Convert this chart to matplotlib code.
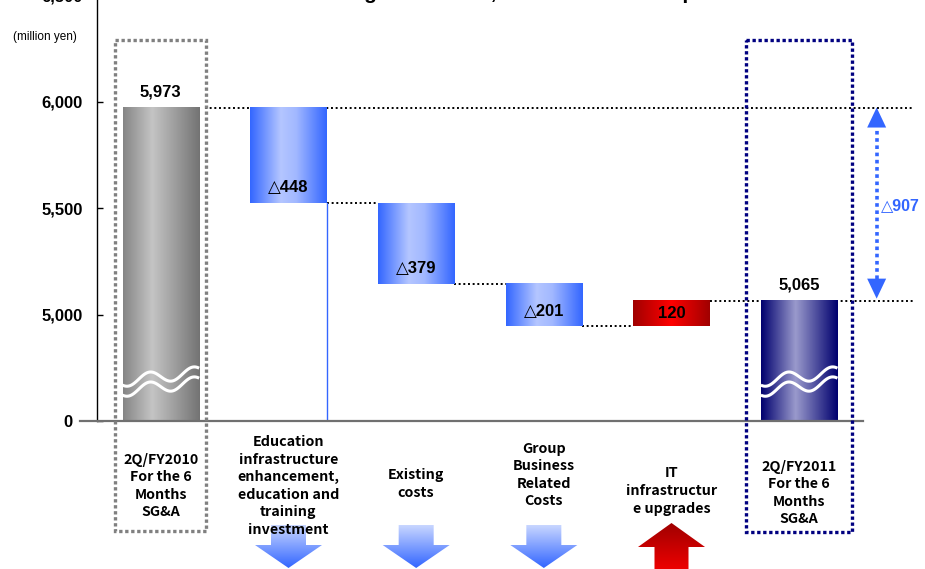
import numpy as np
import matplotlib
matplotlib.use("Agg")
import matplotlib.pyplot as plt
from matplotlib.colors import LinearSegmentedColormap
from matplotlib.patches import Polygon, Rectangle
from matplotlib.transforms import ScaledTranslation
from matplotlib import font_manager

# --- data -------------------------------------------------------------
categories = ["2Q/FY2010\nFor the 6\nMonths\nSG&A",
              "Education\ninfrastructure\nenhancement,\neducation and\ntraining\ninvestment",
              "Existing\ncosts",
              "Group\nBusiness\nRelated\nCosts",
              "IT\ninfrastructur\ne upgrades",
              "2Q/FY2011\nFor the 6\nMonths\nSG&A"]
start_total = 5973
end_total = 5065
changes = [-448, -379, -201, 120]
change_labels = ["△448", "△379", "△201", "120"]
total_labels = ["5,973", "5,065"]
diff_label = "△907"
yticks = [4500, 5000, 5500, 6000, 6500]
ytick_labels = ["0", "5,000", "5,500", "6,000", "6,500"]
unit_label = "(million yen)"
title = "Changes in SG&A, Year-on-Year Comparison"

BREAK = 4500   # axis is broken: everything below this is cut away

names = {f.name for f in font_manager.fontManager.ttflist}
if "Liberation Sans Narrow" in names:
    cat_font, cat_size, cat_ls = "Liberation Sans Narrow", 12, 1.12
elif "Noto Sans CJK JP" in names:
    cat_font, cat_size, cat_ls = "Noto Sans CJK JP", 10.3, 1.33
else:
    cat_font, cat_size, cat_ls = "Liberation Sans", 10.5, 1.25
plt.rcParams["font.family"] = ["Liberation Sans", "DejaVu Sans"]


def ty(v):
    return v - BREAK


def grad_cmap(stops):
    return LinearSegmentedColormap.from_list("g", stops)


gray_cm = grad_cmap([(0, "#858585"), (0.38, "#c4c4c4"), (0.6, "#a8a8a8"), (1, "#737373")])
blue_cm = grad_cmap([(0, "#3366ff"), (0.4, "#b4c6ff"), (0.6, "#a2b8ff"), (1, "#3366ff")])
red_cm = grad_cmap([(0, "#a00000"), (0.5, "#ff0000"), (1, "#a00000")])
navy_cm = grad_cmap([(0, "#00006e"), (0.45, "#9a9acc"), (1, "#00006e")])
down_cm = grad_cmap([(0, "#c8d6ff"), (1, "#3366ff")])
up_cm = grad_cmap([(0, "#a00000"), (1, "#ff0000")])

W, H = 925, 569
fig = plt.figure(figsize=(W / 100, H / 100), dpi=100)
ax = fig.add_axes([97 / W, 148 / H, 766 / W, 432 / H])
XL, YL = (-0.5, 5.5), (0, 2030)
PXY = YL[1] / 432.0          # data units per pixel (vertical)
PXX = 6 / 766.0              # data units per pixel (horizontal)
BW = 0.6


def grad_bar(x, lo, hi, cmap):
    ax.imshow(np.linspace(0, 1, 256).reshape(1, -1), cmap=cmap, aspect="auto",
              extent=[x - BW / 2, x + BW / 2, ty(lo), ty(hi)], zorder=2,
              interpolation="bilinear")


# waterfall levels
levels = [start_total]
for c in changes:
    levels.append(levels[-1] + c)

grad_bar(0, BREAK, start_total, gray_cm)
for i, c in enumerate(changes):
    lo, hi = sorted([levels[i], levels[i + 1]])
    grad_bar(i + 1, lo, hi, red_cm if c > 0 else blue_cm)
    if c < 0:
        ax.annotate(change_labels[i], (i + 1, ty(lo)), xytext=(0, 11),
                    textcoords="offset points", ha="center", va="center",
                    fontsize=12, fontweight="bold", zorder=5)
    else:
        ax.text(i + 1, ty((lo + hi) / 2), change_labels[i], ha="center", va="center",
                fontsize=12, fontweight="bold", zorder=5)
n = len(categories) - 1
grad_bar(n, BREAK, end_total, navy_cm)

for x, v, lab in [(0, start_total, total_labels[0]), (n, end_total, total_labels[1])]:
    ax.annotate(lab, (x, ty(v)), xytext=(0, 6), textcoords="offset points",
                ha="center", va="bottom", fontsize=12, fontweight="bold")
    # break marks
    t = np.linspace(0, 1, 80)
    phi = 2 * np.pi * (t - 0.355) / 0.57 + np.pi / 2
    up = (40 + 8.9 * t + 5.8 * np.sin(phi)) * PXY
    xs = x - BW / 2 + BW * t
    for off in (0, 10 * PXY):
        ax.plot(xs, up - off, color="white", lw=2.2, zorder=3, solid_capstyle="butt")

# connectors
dot = dict(color="black", lw=1.4, ls=(0, (1, 1.4)), clip_on=False, zorder=1)
ax.plot([0 + 0.345, 5.9], [ty(start_total)] * 2, **dot)
ax.plot([n - 1 + BW / 2, 5.9], [ty(end_total)] * 2, **dot)
for i in range(1, len(changes)):
    ax.plot([i + BW / 2, i + 1 - BW / 2], [ty(levels[i])] * 2, **dot)
ax.plot([1 + BW / 2] * 2, [0, ty(levels[1])], color="#3366ff", lw=1, zorder=1)

# difference arrow
xa = 5.607
hw, hh = 9.5 * PXX, 20 * PXY
top, bot = ty(start_total), ty(end_total) + 10
ax.add_patch(Polygon([(xa - hw, top - hh), (xa + hw, top - hh), (xa, top)], closed=True,
                     color="#3366ff", clip_on=False, lw=0))
ax.add_patch(Polygon([(xa - hw, bot + hh), (xa + hw, bot + hh), (xa, bot)], closed=True,
                     color="#3366ff", clip_on=False, lw=0))
ax.plot([xa, xa], [bot + hh, top - hh], color="#3366ff", lw=2.6, ls=(0, (1, 1)),
        clip_on=False)
ax.text(xa + 0.03, (top + bot) / 2 - 2 * PXY, diff_label, color="#3366ff", fontsize=11.5,
        fontweight="bold", ha="left", va="center", clip_on=False)

# axes styling
ax.set_xlim(*XL)
ax.set_ylim(*YL)
ax.set_yticks([ty(v) for v in yticks])
ax.set_yticklabels(ytick_labels, fontsize=12, fontweight="bold")
ax.set_xticks([])
ax.tick_params(axis="y", direction="in", length=4, width=1, pad=10)
zero = ax.get_yticklabels()[0]
zero.set_transform(zero.get_transform() + ScaledTranslation(-0.11, 0, fig.dpi_scale_trans))
for s in ["top", "right", "bottom"]:
    ax.spines[s].set_visible(False)
ax.spines["left"].set_linewidth(1)
ax.plot([-0.634, XL[1]], [0, 0], color="#707070", lw=1.6, clip_on=False, zorder=4)

# overlay in pixel coordinates for things below the plot area
ov = fig.add_axes([0, 0, 1, 1])
ov.axis("off")
cx = [ax.transData.transform((i, 0))[0] for i in range(len(categories))]

label_y = [486, 486, 484, 475, 491, 493]
for i, lab in enumerate(categories):
    ov.text(cx[i], label_y[i], lab, ha="center", va="center", fontsize=cat_size,
            fontweight="bold", family=[cat_font, "DejaVu Sans"], linespacing=cat_ls,
            zorder=10)

ov.add_patch(Rectangle((cx[0] - 45.5, 40), 91, 491, fill=False, ec="#808080", lw=2.4,
                       ls=(0, (1, 0.8))))
ov.add_patch(Rectangle((cx[n] - 53, 40), 106, 492, fill=False, ec="#000080", lw=2.4,
                       ls=(0, (1, 0.8))))

for i, c in enumerate(changes):
    x = cx[i + 1]
    if c < 0:
        pts = [(x - 17.5, 525), (x + 17.5, 525), (x + 17.5, 545), (x + 33.5, 545),
               (x, 568), (x - 33.5, 545), (x - 17.5, 545)]
        cm, y0, y1 = down_cm, 525, 568
    else:
        pts = [(x, 523), (x + 33.5, 547), (x + 17, 547), (x + 17, 580),
               (x - 17, 580), (x - 17, 547), (x - 33.5, 547)]
        cm, y0, y1 = up_cm, 523, 580
    poly = Polygon(pts, closed=True, fc="none", ec="none")
    ov.add_patch(poly)
    im = ov.imshow(np.linspace(0, 1, 100).reshape(-1, 1), cmap=cm, aspect="auto",
                   extent=[x - 34, x + 34, y1, y0], interpolation="bilinear", zorder=1)
    im.set_clip_path(poly)

ov.set_xlim(0, W)
ov.set_ylim(H, 0)

fig.text(45 / W, 1 - 37 / H, unit_label, fontsize=8.5, ha="center", va="center")
fig.text(312 / W, 1 + 1 / H, title, fontsize=15, fontweight="bold", ha="left",
         va="baseline")

fig.savefig("out.png", dpi=100)
